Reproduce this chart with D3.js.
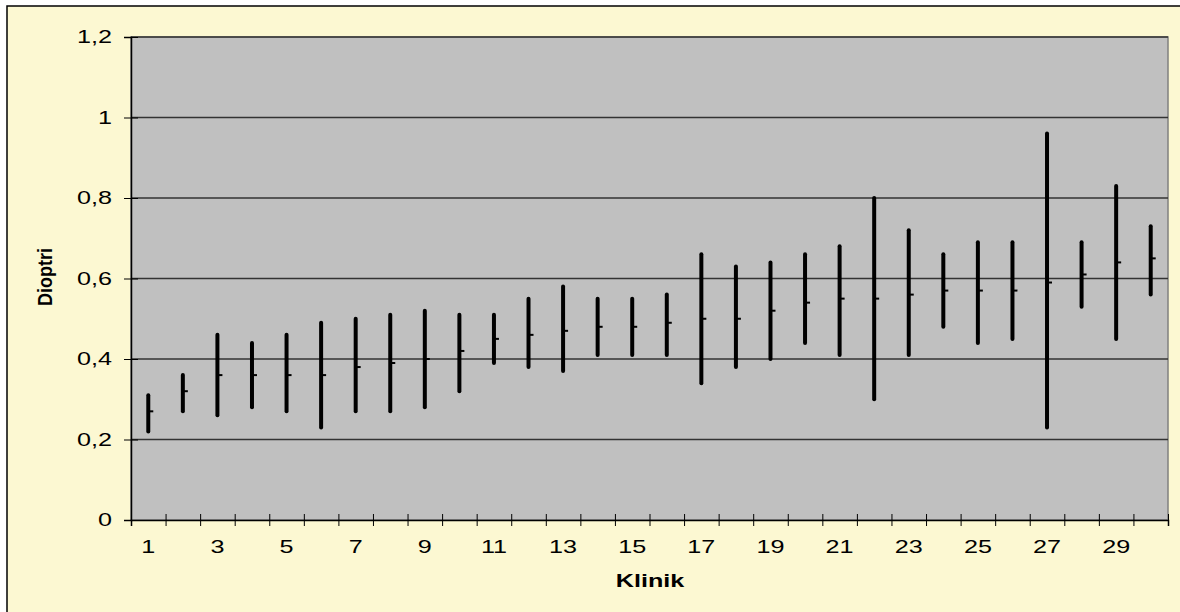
<!DOCTYPE html>
<html>
<head>
<meta charset="utf-8">
<script src="https://cdn.jsdelivr.net/npm/d3@7"></script>
<style>
  body { margin: 0; background: #fff; }
  text { font-family: "Liberation Sans", Arial, sans-serif; fill: #000; }
</style>
</head>
<body>
<div class="chart_container"></div>
<script>
// data
const klinik = d3.range(1, 31)
const high = [0.31, 0.36, 0.46, 0.44, 0.46, 0.49, 0.50, 0.51, 0.52, 0.51,
              0.51, 0.55, 0.58, 0.55, 0.55, 0.56, 0.66, 0.63, 0.64, 0.66,
              0.68, 0.80, 0.72, 0.66, 0.69, 0.69, 0.96, 0.69, 0.83, 0.73]
const low  = [0.22, 0.27, 0.26, 0.28, 0.27, 0.23, 0.27, 0.27, 0.28, 0.32,
              0.39, 0.38, 0.37, 0.41, 0.41, 0.41, 0.34, 0.38, 0.40, 0.44,
              0.41, 0.30, 0.41, 0.48, 0.44, 0.45, 0.23, 0.53, 0.45, 0.56]
const mean = [0.27, 0.32, 0.36, 0.36, 0.36, 0.36, 0.38, 0.39, 0.40, 0.42,
              0.45, 0.46, 0.47, 0.48, 0.48, 0.49, 0.50, 0.50, 0.52, 0.54,
              0.55, 0.55, 0.56, 0.57, 0.57, 0.57, 0.59, 0.61, 0.64, 0.65]
const yTicks = [0, 0.2, 0.4, 0.6, 0.8, 1, 1.2]
const xLabels = klinik.filter(d => d % 2 === 1)

const data = klinik.map((k, i) => ({klinik: k, high: high[i], low: low[i], mean: mean[i]}))

const svg_width = 1180
const svg_height = 612
const plot = {left: 131, right: 1168, top: 37, bottom: 520}
const stretch = 1.4 // text in the original is wider than it is tall

const svg = d3.select('.chart_container').append('svg')
  .attr('width', svg_width).attr('height', svg_height)

// chart background with frame
svg.append('rect')
  .attr('x', 7).attr('y', 6)
  .attr('width', svg_width + 20).attr('height', svg_height + 20)
  .attr('fill', '#fcf8d2').attr('stroke', '#000').attr('stroke-width', 1.5)

// scales
const xScale = d3.scaleBand().domain(klinik).range([plot.left, plot.right]).padding(0)
const xEdges = d3.scaleLinear([0, klinik.length], [plot.left, plot.right])
const yScale = d3.scaleLinear([0, 1.2], [plot.bottom, plot.top])

// plot area
svg.append('rect')
  .attr('x', plot.left).attr('y', plot.top)
  .attr('width', plot.right - plot.left).attr('height', plot.bottom - plot.top)
  .attr('fill', '#c0c0c0').attr('stroke', '#808080').attr('stroke-width', 1.5)

// gridlines
svg.append('g').selectAll('line').data(yTicks.filter(d => d > 0)).join('line')
  .attr('x1', plot.left).attr('x2', plot.right)
  .attr('y1', d => yScale(d)).attr('y2', d => yScale(d))
  .attr('stroke', '#333').attr('stroke-width', 1.3)

// y axis
const yAxis = d3.axisLeft(yScale).tickValues(yTicks).tickSize(7).tickFormat('')
const yAxisDraw = svg.append('g').attr('transform', `translate(${plot.left},0)`).call(yAxis)
yAxisDraw.selectAll('.tick line').attr('x1', 7).attr('stroke', '#000')
yAxisDraw.select('.domain').attr('stroke', '#000').attr('stroke-width', 1.5)

svg.append('g').selectAll('text').data(yTicks).join('text')
  .attr('transform', d => `translate(112,${yScale(d)}) scale(${stretch},1)`)
  .attr('text-anchor', 'end').attr('dy', '0.36em')
  .style('font-size', '18px')
  .text(d => d3.format('.1~f')(d).replace('.', ','))

// x axis (ticks between categories)
const xAxis = d3.axisBottom(xEdges).tickValues(d3.range(0, klinik.length + 1)).tickSize(6).tickFormat('')
const xAxisDraw = svg.append('g').attr('transform', `translate(0,${plot.bottom})`).call(xAxis)
xAxisDraw.selectAll('.tick line').attr('y1', -6).attr('stroke', '#000')
xAxisDraw.select('.domain').attr('stroke', '#000').attr('stroke-width', 1.5)

svg.append('g').selectAll('text').data(xLabels).join('text')
  .attr('transform', d => `translate(${xScale(d) + xScale.bandwidth() / 2},547) scale(${stretch},1)`)
  .attr('text-anchor', 'middle').attr('dy', '0.36em')
  .style('font-size', '18px')
  .text(d => d)

// high-low lines
svg.append('g').selectAll('line').data(data).join('line')
  .attr('x1', d => xScale(d.klinik) + xScale.bandwidth() / 2)
  .attr('x2', d => xScale(d.klinik) + xScale.bandwidth() / 2)
  .attr('y1', d => yScale(d.high)).attr('y2', d => yScale(d.low))
  .attr('stroke', '#000').attr('stroke-width', 4).attr('stroke-linecap', 'round')

// mean marks
svg.append('g').selectAll('line').data(data).join('line')
  .attr('x1', d => xScale(d.klinik) + xScale.bandwidth() / 2)
  .attr('x2', d => xScale(d.klinik) + xScale.bandwidth() / 2 + 5)
  .attr('y1', d => yScale(d.mean)).attr('y2', d => yScale(d.mean))
  .attr('stroke', '#000').attr('stroke-width', 2)

// axis titles
svg.append('text')
  .attr('transform', `translate(650,587) scale(${stretch},1)`)
  .attr('text-anchor', 'middle')
  .style('font-size', '18px').style('font-weight', 'bold')
  .text('Klinik')

svg.append('text')
  .attr('transform', 'translate(52,277) rotate(-90) scale(1,1.1)')
  .attr('text-anchor', 'middle')
  .style('font-size', '18px').style('font-weight', 'bold')
  .text('Dioptri')
</script>
</body>
</html>
